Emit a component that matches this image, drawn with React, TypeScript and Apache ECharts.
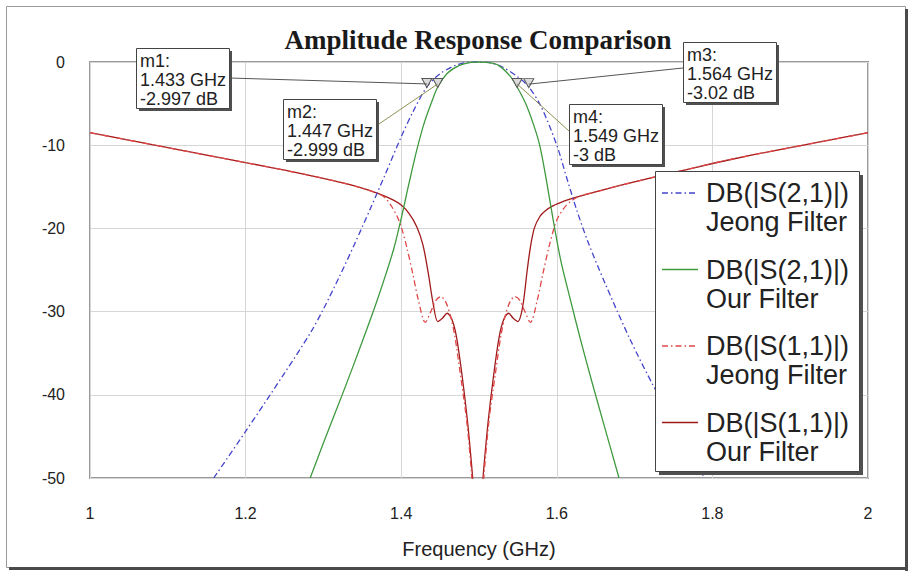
import React, { useEffect, useRef } from "react";
import * as echarts from "echarts";

const chartTitle = "Amplitude Response Comparison";
const xAxisName = "Frequency (GHz)";
const xMin = 1;
const xMax = 2;
const xStep = 0.2;
const yMin = -50;
const yMax = 0;
const yStep = 10;

// DB(|S(2,1)|) Jeong Filter
const jeongS21Freq = [1.159, 1.2, 1.25, 1.283, 1.3, 1.32, 1.34, 1.36, 1.38, 1.4, 1.415, 1.433, 1.45, 1.47, 1.485, 1.4985, 1.515, 1.53, 1.55, 1.564, 1.58, 1.6, 1.613, 1.626, 1.64, 1.662, 1.694, 1.724, 1.76, 1.79];
const jeongS21Db = [-50, -44.4, -37.4, -32.6, -29.7, -25.9, -21.9, -17.7, -13.4, -9.0, -6.0, -3.0, -1.4, -0.4, -0.05, 0, -0.1, -0.6, -1.8, -3.0, -5.4, -10.0, -14.0, -17.9, -21.6, -26.6, -33.3, -38.9, -45, -50];

// DB(|S(2,1)|) Our Filter
const ourS21Freq = [1.283, 1.3, 1.325, 1.35, 1.37, 1.39, 1.4, 1.41, 1.42, 1.43, 1.44, 1.447, 1.46, 1.475, 1.49, 1.5, 1.51, 1.525, 1.54, 1.549, 1.56, 1.57, 1.578, 1.587, 1.595, 1.605, 1.617, 1.63, 1.645, 1.66, 1.68];
const ourS21Db = [-50, -45.8, -39.8, -33.6, -28.4, -22.6, -18.8, -14.6, -10.6, -7.2, -4.6, -3.0, -1.3, -0.4, -0.05, 0, -0.05, -0.4, -1.7, -3.0, -5.0, -7.5, -10.0, -14.4, -18.8, -23.8, -28.4, -33.2, -38.4, -43.4, -50];

// DB(|S(1,1)|) Jeong Filter
const jeongS11Freq = [1.0, 1.05, 1.1, 1.15, 1.2, 1.25, 1.3, 1.34, 1.37, 1.38, 1.388, 1.395, 1.4, 1.407, 1.415, 1.422, 1.431, 1.438, 1.445, 1.451, 1.457, 1.463, 1.469, 1.476, 1.484, 1.49, 1.495, 1.4985, 1.502, 1.507, 1.513, 1.521, 1.528, 1.534, 1.54, 1.546, 1.552, 1.559, 1.566, 1.575, 1.582, 1.59, 1.597, 1.602, 1.609, 1.617, 1.63, 1.65, 1.7, 1.75, 1.8, 1.85, 1.9, 1.95, 2.0];
const jeongS11Db = [-8.5, -9.4, -10.3, -11.2, -12.1, -13, -14, -14.9, -15.8, -16.4, -17.4, -18.6, -19.8, -22.2, -25.5, -28.6, -31.3, -30, -28.6, -28.2, -28.8, -30.4, -33, -37.5, -43, -49, -55, -58, -55, -49, -43, -37.5, -33, -30.4, -28.8, -28.2, -28.6, -30, -31.3, -28.6, -25.5, -22.2, -19.8, -18.6, -17.6, -16.8, -16.1, -15.6, -14.4, -13.3, -12.2, -11.2, -10.3, -9.4, -8.5];

// DB(|S(1,1)|) Our Filter
const ourS11Freq = [1.0, 1.05, 1.1, 1.15, 1.2, 1.25, 1.3, 1.34, 1.37, 1.39, 1.4, 1.41, 1.42, 1.428, 1.435, 1.441, 1.447, 1.453, 1.459, 1.465, 1.471, 1.478, 1.485, 1.491, 1.496, 1.4985, 1.501, 1.506, 1.512, 1.519, 1.526, 1.532, 1.538, 1.544, 1.55, 1.556, 1.562, 1.566, 1.571, 1.578, 1.585, 1.595, 1.61, 1.623, 1.65, 1.7, 1.75, 1.8, 1.85, 1.9, 1.95, 2.0];
const ourS11Db = [-8.5, -9.4, -10.3, -11.2, -12.1, -13, -14, -14.9, -15.8, -16.6, -17.2, -18.2, -19.8, -22, -25.5, -29, -31.2, -30.8, -30.2, -30.9, -33, -37.5, -43, -49, -55, -58, -55, -49, -43, -37.5, -33, -30.9, -30.2, -30.8, -31.2, -29.5, -25, -22.3, -20, -18.6, -17.9, -17.3, -16.7, -16.3, -15.6, -14.4, -13.3, -12.2, -11.2, -10.3, -9.4, -8.5];

const legendLine1 = ["DB(|S(2,1)|)", "DB(|S(2,1)|)", "DB(|S(1,1)|)", "DB(|S(1,1)|)"];
const legendLine2 = ["Jeong Filter", "Our Filter", "Jeong Filter", "Our Filter"];

const markerNames = ["m1", "m2", "m3", "m4"];
const markerFreq = [1.433, 1.447, 1.564, 1.549];
const markerDb = [-2.997, -2.999, -3.02, -3];
const markerOnSeries = [0, 1, 0, 1]; // 0: Jeong S21, 1: Our S21

// styles / layout
const seriesColors = ["#4444cc", "#3f9a3f", "#e04848", "#a01a1a"];
const seriesDash: any[] = [[6, 3, 1.5, 3], "solid", [6, 3, 1.5, 3], "solid"];
const boxPos = [[136, 48], [283, 99], [683, 42], [569, 104]];
const boxW = 93;
const boxH = 60;
const leaderAnchor = [[93, 30], [93, 27], [0, 26], [0, 27]];
const leaderColor = ["#555555", "#8f8f55", "#555555", "#8f8f55"];

const SANS = '"Liberation Sans", Arial, sans-serif';
const SERIF = '"Liberation Serif", "Times New Roman", serif';

export default function App() {
  const ref = useRef<HTMLDivElement>(null);
  useEffect(() => {
    const el = ref.current!;
    const chart = echarts.init(el, null, { renderer: "svg" });
    const zip = (f: number[], d: number[]) => f.map((x, i) => [x, d[i]]);
    const names = legendLine1.map((a, i) => a + " " + legendLine2[i]);
    const mp = (s: number) => ({
      symbol: "triangle",
      symbolRotate: 180,
      symbolSize: [10, 9],
      symbolOffset: [0, -4],
      itemStyle: { color: "#dcdcdc", borderColor: "#555", borderWidth: 1 },
      label: { show: false },
      data: markerNames
        .map((n, i) => ({ name: n, coord: [markerFreq[i], markerDb[i]], s: markerOnSeries[i] }))
        .filter((d) => d.s === s)
        .map((d) => ({ name: d.name, coord: d.coord })),
    });
    const mk = (i: number, data: number[][], markPoint?: any) => ({
      type: "line",
      name: names[i],
      data,
      showSymbol: false,
      smooth: 0.3,
      clip: true,
      lineStyle: { color: seriesColors[i], width: 1.3, type: seriesDash[i] },
      itemStyle: { color: seriesColors[i] },
      markPoint,
      z: 2,
    });
    chart.setOption({
      animation: false,
      backgroundColor: "#ffffff",
      title: {
        text: chartTitle,
        left: 478,
        top: 26,
        padding: 0,
        textAlign: "center",
        textStyle: { fontFamily: SERIF, fontWeight: "bold", fontSize: 27, color: "#1a1a1a" },
      },
      grid: {
        left: 90,
        top: 62,
        width: 778,
        height: 416,
        show: true,
        borderColor: "#9a9a9a",
        borderWidth: 2,
        backgroundColor: "#fff",
      },
      xAxis: {
        type: "value",
        min: xMin,
        max: xMax,
        interval: xStep,
        name: xAxisName,
        nameLocation: "middle",
        nameGap: 61,
        nameTextStyle: { fontFamily: SANS, fontSize: 20, color: "#222" },
        axisLine: { show: false },
        axisTick: { show: false },
        axisLabel: { margin: 27, fontFamily: SANS, fontSize: 16, color: "#222" },
        splitLine: { show: true, lineStyle: { color: "#d6d6d6", width: 1 } },
      },
      yAxis: {
        type: "value",
        min: yMin,
        max: yMax,
        interval: yStep,
        axisLine: { show: false },
        axisTick: { show: false },
        axisLabel: { margin: 25, fontFamily: SANS, fontSize: 16, color: "#222" },
        splitLine: { show: true, lineStyle: { color: "#d6d6d6", width: 1 } },
      },
      series: [
        mk(3, zip(ourS11Freq, ourS11Db)),
        mk(2, zip(jeongS11Freq, jeongS11Db)),
        mk(0, zip(jeongS21Freq, jeongS21Db), mp(0)),
        mk(1, zip(ourS21Freq, ourS21Db), mp(1)),
      ],
    });

    const g: any[] = [];
    // outer frame
    g.push({ type: "rect", z: 50, shape: { x: 6.5, y: 6.5, width: 899, height: 561 }, style: { fill: "none", stroke: "#9a9a9a", lineWidth: 1 } });
    g.push({ type: "rect", z: 50, shape: { x: 905, y: 9, width: 3, height: 562 }, style: { fill: "#4a4a4a" } });
    g.push({ type: "rect", z: 50, shape: { x: 9, y: 567, width: 899, height: 3 }, style: { fill: "#4a4a4a" } });

    // marker annotations
    markerNames.forEach((n, i) => {
      const [bx, by] = boxPos[i];
      const p = chart.convertToPixel({ gridIndex: 0 }, [markerFreq[i], markerDb[i]]) as number[];
      g.push({
        type: "line",
        z: 40,
        shape: { x1: bx + leaderAnchor[i][0], y1: by + leaderAnchor[i][1], x2: p[0], y2: p[1] - 3 },
        style: { stroke: leaderColor[i], lineWidth: 1 },
      });
      g.push({ type: "rect", z: 60, shape: { x: bx + 3, y: by + 3, width: boxW, height: boxH }, style: { fill: "#505050" } });
      g.push({ type: "rect", z: 61, shape: { x: bx + 0.5, y: by + 0.5, width: boxW, height: boxH }, style: { fill: "#ffffff", stroke: "#444", lineWidth: 1 } });
      g.push({
        type: "text",
        z: 62,
        x: bx + 4,
        y: by + 3,
        style: {
          text: `${n}:\n${markerFreq[i]} GHz\n${markerDb[i]} dB`,
          font: `18px ${SANS}`,
          lineHeight: 19,
          fill: "#222",
          align: "left",
          verticalAlign: "top",
        },
      });
    });

    // legend box
    const lx = 655, ly = 171, lw = 204, lh = 300;
    g.push({ type: "rect", z: 60, shape: { x: lx + 4, y: ly + 4, width: lw, height: lh }, style: { fill: "#505050" } });
    g.push({ type: "rect", z: 61, shape: { x: lx + 0.5, y: ly + 0.5, width: lw, height: lh }, style: { fill: "#ffffff", stroke: "#444", lineWidth: 1 } });
    legendLine1.forEach((t, i) => {
      const yc = 193 + i * 76.5;
      g.push({
        type: "line",
        z: 62,
        shape: { x1: 662, y1: yc, x2: 698, y2: yc },
        style: { stroke: seriesColors[i], lineWidth: 1.3, lineDash: Array.isArray(seriesDash[i]) ? seriesDash[i] : null },
      });
      g.push({
        type: "text",
        z: 62,
        x: 706,
        y: yc - 14.5,
        style: {
          text: `${t}\n${legendLine2[i]}`,
          font: `27px ${SANS}`,
          lineHeight: 29,
          fill: "#222",
          align: "left",
          verticalAlign: "top",
        },
      });
    });
    chart.setOption({ graphic: g });
    return () => chart.dispose();
  }, []);
  return (
    <div
      ref={ref}
      style={{ position: "fixed", left: 0, top: 0, width: 914, height: 576, background: "#fff" }}
    />
  );
}
